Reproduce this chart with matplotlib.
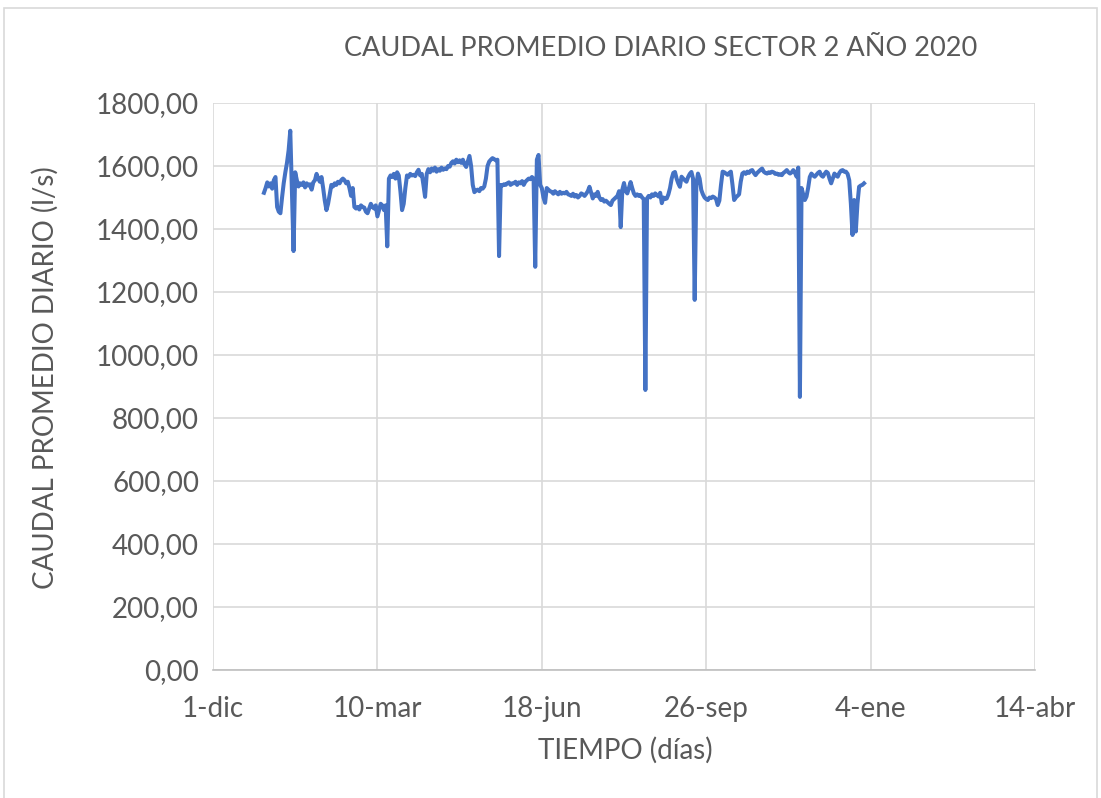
import numpy as np
import pandas as pd
import matplotlib
matplotlib.use("Agg")
import matplotlib.pyplot as plt
from matplotlib.patches import Rectangle

# caudal promedio diario (l/s), un valor por dia, 2020
ene = [1515, 1530, 1548, 1535, 1545, 1528, 1555, 1565, 1470, 1455,
       1450, 1500, 1545, 1580, 1610, 1650, 1712, 1520, 1330, 1580,
       1555, 1535, 1545, 1540, 1548, 1532, 1545, 1538, 1542, 1525,
       1548]
feb = [1555, 1575, 1560, 1550, 1565, 1530, 1490, 1460, 1480, 1510,
       1540, 1535, 1545, 1540, 1550, 1545, 1555, 1560, 1555, 1545,
       1550, 1530, 1505, 1530, 1470, 1465, 1470, 1462, 1475]
mar = [1470, 1468, 1455, 1450, 1465, 1480, 1470, 1465, 1475, 1440,
       1460, 1480, 1475, 1460, 1475, 1345, 1560, 1570, 1565, 1575,
       1560, 1580, 1570, 1520, 1460, 1480, 1530, 1570, 1565, 1575,
       1570]
abr = [1572, 1568, 1580, 1588, 1570, 1575, 1540, 1502, 1575, 1590,
       1580, 1592, 1585, 1595, 1582, 1590, 1585, 1595, 1588, 1592,
       1590, 1600, 1598, 1610, 1615, 1608, 1620, 1612, 1618, 1610]
may = [1620, 1605, 1597, 1615, 1632, 1600, 1540, 1517, 1522, 1525,
       1520, 1530, 1528, 1535, 1560, 1600, 1614, 1620, 1625, 1622,
       1618, 1620, 1314, 1540, 1538, 1542, 1540, 1545, 1548, 1540,
       1545]
jun = [1545, 1550, 1540, 1548, 1545, 1552, 1540, 1550, 1555, 1560,
       1558, 1565, 1560, 1280, 1620, 1635, 1540, 1530, 1500, 1483,
       1530, 1525, 1520, 1518, 1512, 1520, 1515, 1510, 1518, 1512]
jul = [1515, 1513, 1518, 1510, 1508, 1505, 1512, 1503, 1508, 1500,
       1505, 1513, 1510, 1505, 1512, 1520, 1534, 1515, 1497, 1510,
       1505, 1518, 1500, 1492, 1495, 1487, 1490, 1485, 1480, 1476,
       1490]
ago = [1495, 1500, 1505, 1520, 1406, 1525, 1546, 1520, 1513, 1530,
       1549, 1530, 1513, 1505, 1510, 1505, 1508, 1500, 1495, 889,
       1497, 1505, 1500, 1510, 1505, 1513, 1508, 1503, 1515, 1482,
       1500]
sep = [1495, 1497, 1510, 1530, 1560, 1578, 1581, 1560, 1545, 1534,
       1566, 1560, 1555, 1550, 1565, 1575, 1581, 1560, 1175, 1540,
       1576, 1560, 1524, 1510, 1500, 1495, 1492, 1500, 1498, 1503]
octu = [1500, 1495, 1476, 1490, 1540, 1582, 1580, 1576, 1572, 1578,
        1582, 1540, 1492, 1500, 1505, 1510, 1550, 1576, 1580, 1575,
        1582, 1578, 1585, 1587, 1578, 1571, 1578, 1583, 1588, 1592,
        1582]
nov = [1578, 1576, 1580, 1578, 1582, 1580, 1575, 1576, 1572, 1574,
       1571, 1578, 1582, 1587, 1580, 1576, 1580, 1587, 1578, 1566,
       1595, 867, 1530, 1510, 1492, 1503, 1530, 1565, 1576, 1570]
dic = [1566, 1572, 1578, 1582, 1570, 1566, 1575, 1582, 1578, 1560,
       1545, 1560, 1576, 1570, 1566, 1578, 1585, 1587, 1582, 1582,
       1575, 1555, 1480, 1381, 1492, 1392, 1480, 1534, 1538, 1540,
       1545]

caudal = ene + feb + mar + abr + may + jun + jul + ago + sep + octu + nov + dic
fechas = pd.date_range("2020-01-01", periods=len(caudal), freq="D")

tick_fechas = pd.to_datetime(["2019-12-01", "2020-03-10", "2020-06-18",
                              "2020-09-26", "2021-01-04", "2021-04-14"])
tick_labels = ["1-dic", "10-mar", "18-jun", "26-sep", "4-ene", "14-abr"]
y_ticks = np.arange(0, 1801, 200)

gris = "#595959"
plt.rcParams["font.family"] = ["Lato", "DejaVu Sans"]

fig = plt.figure(figsize=(11.01, 7.98), dpi=100)
ax = fig.add_axes([213 / 1101, 1 - 670 / 798, (1035 - 213) / 1101, (670 - 103) / 798])

ax.plot(fechas, caudal, color="#4472C4", linewidth=2.9, solid_joinstyle="round")

ax.set_xlim(tick_fechas[0], tick_fechas[-1])
ax.set_ylim(0, 1800)
ax.set_xticks(tick_fechas)
ax.set_xticklabels(tick_labels)
ax.set_yticks(y_ticks)
ax.set_yticklabels([f"{v:.2f}".replace(".", ",") for v in y_ticks])

ax.grid(True, color="#d9d9d9", linewidth=1.2)
ax.set_axisbelow(True)
for s in ["top", "right", "left"]:
    ax.spines[s].set_visible(False)
ax.spines["bottom"].set_color("#bfbfbf")
ax.spines["bottom"].set_linewidth(1.2)
ax.tick_params(length=0, labelsize=20, labelcolor=gris)
ax.tick_params(axis="y", pad=10)
ax.tick_params(axis="x", pad=19)

fig.text(661 / 1101, 1 - 48 / 798, "CAUDAL PROMEDIO DIARIO SECTOR 2 AÑO 2020",
         ha="center", va="center", fontsize=19.5, color=gris)
fig.text(625 / 1101, 1 - 750 / 798, "TIEMPO (días)", ha="center", va="center",
         fontsize=20, color=gris)
fig.text(45 / 1101, 1 - 378 / 798, "CAUDAL PROMEDIO DIARIO (l/s)", ha="center",
         va="center", rotation=90, fontsize=20, color=gris)

# marco del grafico
fig.patches.append(Rectangle((4 / 1101, -0.01), 1093 / 1101, 1 - 8 / 798 + 0.01,
                             transform=fig.transFigure, fill=False,
                             edgecolor="#d9d9d9", linewidth=1.2))

fig.savefig("out.png", dpi=100)
